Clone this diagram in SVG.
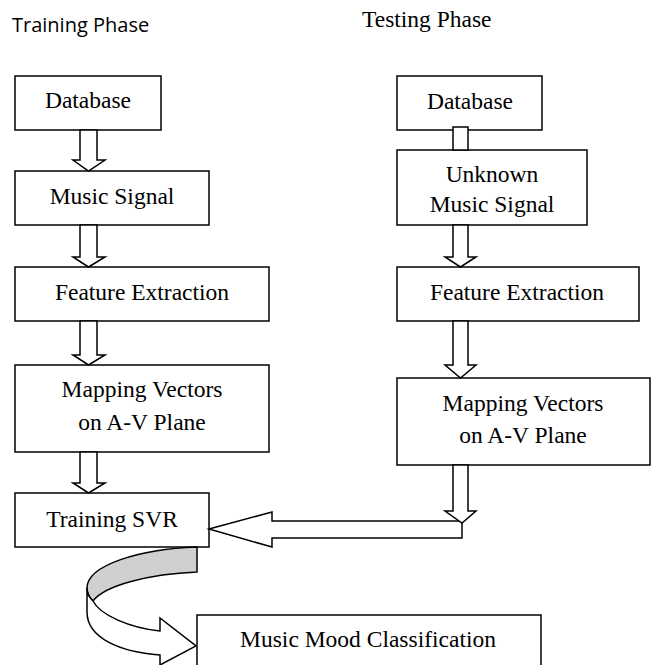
<svg xmlns="http://www.w3.org/2000/svg" width="657" height="665" viewBox="0 0 657 665">
<style>
.box{fill:#fff;stroke:#000;stroke-width:1.5}
.arr{fill:#fff;stroke:#000;stroke-width:1.5;stroke-linejoin:miter}
.t{font-family:"Liberation Serif","Times New Roman",serif;font-size:23.5px;fill:#000;text-anchor:middle}
.h{font-family:"Liberation Serif","Times New Roman",serif;font-size:23.5px;fill:#000}
.hs{font-family:"Open Sans","Liberation Sans",sans-serif;font-size:20px;fill:#000}
</style>
<rect width="657" height="665" fill="#fff"/>
<text class="hs" x="12" y="32">Training Phase</text>
<text class="h" x="362" y="27">Testing Phase</text>

<g id="train-db"><rect class="box" x="15" y="76" width="146" height="54"/><text class="t" x="88" y="108">Database</text></g>
<g id="train-music"><rect class="box" x="15" y="171" width="194" height="54"/><text class="t" x="112" y="204">Music Signal</text></g>
<g id="train-feature"><rect class="box" x="15" y="267" width="254" height="54"/><text class="t" x="142" y="300">Feature Extraction</text></g>
<g id="train-mapping"><rect class="box" x="15" y="365" width="254" height="87"/><text class="t" x="142" y="397">Mapping Vectors</text><text class="t" x="142" y="430">on A-V Plane</text></g>
<g id="train-svr"><rect class="box" x="15" y="493" width="194" height="54"/><text class="t" x="112" y="527">Training SVR</text></g>

<g id="test-db"><rect class="box" x="397" y="76" width="145" height="54"/><text class="t" x="470" y="109">Database</text></g>
<g id="test-music"><rect class="box" x="397" y="150" width="190" height="75"/><text class="t" x="492" y="182">Unknown</text><text class="t" x="492" y="212">Music Signal</text></g>
<g id="test-feature"><rect class="box" x="397" y="267" width="242" height="54"/><text class="t" x="517" y="300">Feature Extraction</text></g>
<g id="test-mapping"><rect class="box" x="397" y="378" width="253" height="87"/><text class="t" x="523" y="411">Mapping Vectors</text><text class="t" x="523" y="443">on A-V Plane</text></g>

<g id="mood"><rect class="box" x="197" y="615" width="344" height="60"/><text class="t" x="368" y="647">Music Mood Classification</text></g>

<g id="connectors">
<polygon class="arr" points="80,130 97,130 97,160 105,160 88.5,171 73,160 80,160"/>
<polygon class="arr" points="80,225 97,225 97,257 105,257 88.5,267 73,257 80,257"/>
<polygon class="arr" points="80,321 97,321 97,355 105,355 88.5,365 73,355 80,355"/>
<polygon class="arr" points="80,452 97,452 97,483 105,483 88.5,493 73,483 80,483"/>

<rect class="arr" x="453" y="127" width="15" height="23"/>
<polygon class="arr" points="453,225 468,225 468,257 476,257 460.5,267 445,257 453,257"/>
<polygon class="arr" points="453,321 468,321 468,365 476,365 460.5,378 445,365 453,365"/>
<polygon class="arr" points="209,529 272,512 272,521 462,521 462,538 272,538 272,547"/>
<polygon class="arr" points="453,465 468,465 468,511 476,511 462,523 445,511 453,511"/>

<path d="M197,547 L197,572 C150,574 105,585 93,601 C89,597 87,593 87,588 C87,565 140,549 197,547 Z" fill="#d0d0d0" stroke="#000" stroke-width="1.5"/>
<path class="arr" d="M87,588 C87,595 90,598 93,601 C100,615 130,628 160,631 L160,618 L196,646 L160,665 L160,655 C120,652 87,638 87,612 Z"/>
</g>
</svg>
